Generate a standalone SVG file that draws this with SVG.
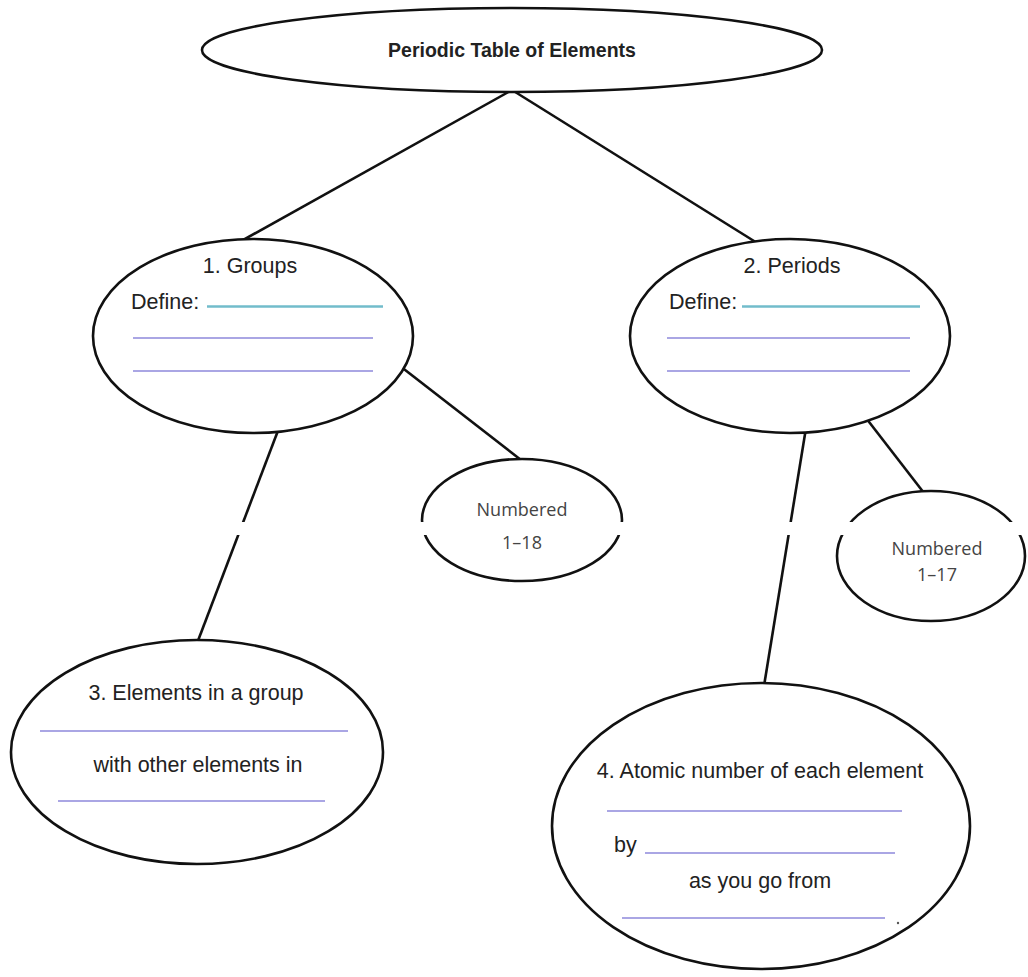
<svg xmlns="http://www.w3.org/2000/svg" width="1028" height="977" viewBox="0 0 1028 977">
<style>
.node{fill:#fff;stroke:#111;stroke-width:2.6}
.conn{stroke:#111;stroke-width:2.6;fill:none}
.hand{font-family:"Liberation Sans",Arial,sans-serif;font-size:21.5px;fill:#222}
.num{font-family:"Open Sans","Liberation Sans",sans-serif;font-size:18px;fill:#444;text-anchor:middle}
.title{font-family:"Liberation Sans",Arial,sans-serif;font-size:19.5px;font-weight:bold;fill:#222;text-anchor:middle}
.blank{stroke:#aaa6e4;stroke-width:2;fill:none}
.cyan{stroke:#72bccb;stroke-width:2.5;fill:none}
</style>
<rect width="1028" height="977" fill="#fff"/>
<g id="connectors">
<line class="conn" x1="512" y1="90" x2="236" y2="244"/>
<line class="conn" x1="512" y1="90" x2="762" y2="246"/>
<line class="conn" x1="400" y1="366" x2="521" y2="460"/>
<line class="conn" x1="279" y1="428" x2="196" y2="646"/>
<line class="conn" x1="866" y1="418" x2="924" y2="493"/>
<line class="conn" x1="806" y1="428" x2="764" y2="686"/>
</g>
<g id="title">
<ellipse class="node" cx="512" cy="50" rx="310" ry="42"/>
<text class="title" x="512" y="57">Periodic Table of Elements</text>
</g>
<g id="groups">
<ellipse class="node" cx="253" cy="336" rx="160" ry="97"/>
<text class="hand" x="250" y="273" text-anchor="middle">1. Groups</text>
<text class="hand" x="131" y="309">Define:</text>
<line class="cyan" x1="207" y1="306.5" x2="383" y2="306.5"/>
<line class="blank" x1="133" y1="338" x2="373" y2="338"/>
<line class="blank" x1="133" y1="371" x2="373" y2="371"/>
</g>
<g id="periods">
<ellipse class="node" cx="790" cy="336" rx="160" ry="97"/>
<text class="hand" x="792" y="273" text-anchor="middle">2. Periods</text>
<text class="hand" x="669" y="309">Define:</text>
<line class="cyan" x1="742" y1="306.5" x2="920" y2="306.5"/>
<line class="blank" x1="667" y1="338" x2="910" y2="338"/>
<line class="blank" x1="667" y1="371" x2="910" y2="371"/>
</g>
<g id="numbered18">
<ellipse class="node" cx="522" cy="520" rx="100" ry="61"/>
</g>
<g id="numbered17">
<ellipse class="node" cx="931" cy="556" rx="94" ry="65"/>
</g>
<g id="elements">
<ellipse class="node" cx="197" cy="752" rx="186" ry="112"/>
<text class="hand" x="196" y="700" text-anchor="middle">3. Elements in a group</text>
<line class="blank" x1="40" y1="731" x2="348" y2="731"/>
<text class="hand" x="198" y="772" text-anchor="middle">with other elements in</text>
<line class="blank" x1="58" y1="801" x2="325" y2="801"/>
</g>
<g id="atomic">
<ellipse class="node" cx="761" cy="826" rx="209" ry="143"/>
<text class="hand" x="760" y="778" text-anchor="middle">4. Atomic number of each element</text>
<line class="blank" x1="607" y1="811" x2="902" y2="811"/>
<text class="hand" x="614" y="852">by</text>
<line class="blank" x1="645" y1="853" x2="895" y2="853"/>
<text class="hand" x="760" y="888" text-anchor="middle">as you go from</text>
<line class="blank" x1="622" y1="918" x2="885" y2="918"/>
<circle cx="898" cy="923" r="1.2" fill="#555"/>
</g>
<rect x="0" y="522" width="1028" height="13" fill="#fff"/>
<text class="num" x="522" y="516">Numbered</text>
<text class="num" x="522" y="549">1–18</text>
<text class="num" x="937" y="555">Numbered</text>
<text class="num" x="937" y="581">1–17</text>
</svg>
